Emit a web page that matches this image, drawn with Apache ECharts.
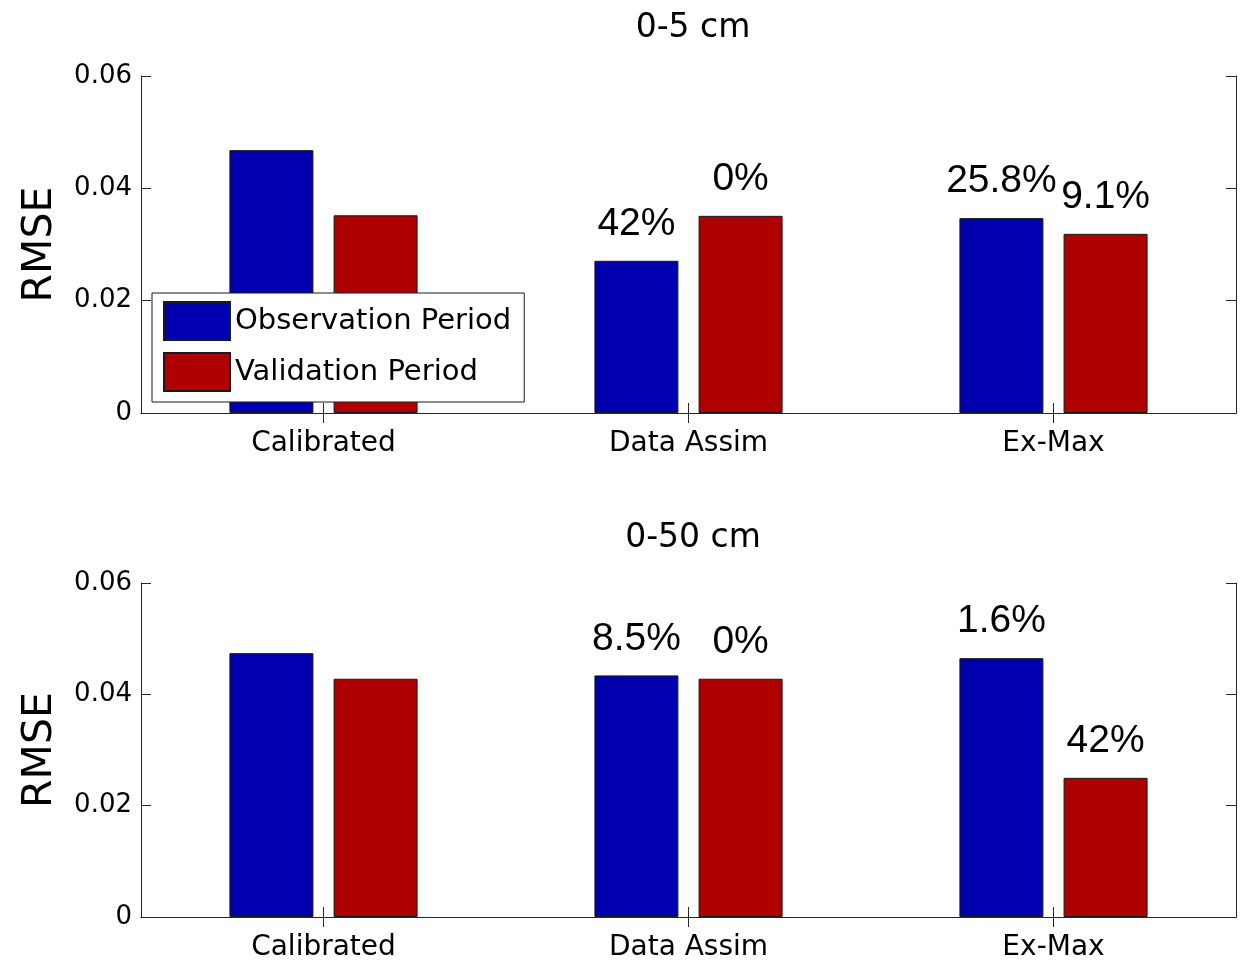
<!DOCTYPE html>
<html>
<head>
<meta charset="utf-8">
<script src="https://cdn.jsdelivr.net/npm/echarts@6/dist/echarts.min.js"></script>
<style>
html,body{margin:0;padding:0;background:#fff;}
#chart{width:1246px;height:962px;}
</style>
</head>
<body>
<div id="chart"></div>
<script>
// ---- data ----
const categories = ['Calibrated', 'Data Assim', 'Ex-Max'];
const seriesNames = ['Observation Period', 'Validation Period'];
const panelTitles = ['0-5 cm', '0-50 cm'];
const yTicks = [0, 0.02, 0.04, 0.06];

const obs5 = [0.0468, 0.0271, 0.0347];
const val5 = [0.0352, 0.0351, 0.0319];
const obs50 = [0.0474, 0.0434, 0.0465];
const val50 = [0.0428, 0.0428, 0.0250];

const obs5Labels = ['', '42%', '25.8%'];
const val5Labels = ['', '0%', '9.1%'];
const obs50Labels = ['', '8.5%', '1.6%'];
const val50Labels = ['', '0%', '42%'];

// ---- styling ----
const BLUE = '#0000ae';
const RED = '#ae0000';
const AX = '#262626';
const FONT = 'DejaVu Sans';

const chart = echarts.init(document.getElementById('chart'), null, {renderer: 'canvas'});

const grids = [
  {left: 141, top: 76, width: 1095, height: 337},
  {left: 141, top: 583, width: 1095, height: 337}
];

function xAxes(gi) {
  return [
    {
      type: 'category', gridIndex: gi, data: categories, position: 'bottom',
      boundaryGap: true,
      axisLine: {show: true, lineStyle: {color: AX, width: 1}},
      axisTick: {show: true, inside: true, alignWithLabel: true, length: 10, lineStyle: {color: AX}},
      axisLabel: {show: true, color: '#000', fontFamily: FONT, fontSize: 28, margin: 17},
      splitLine: {show: false}
    },
    {
      type: 'category', gridIndex: gi, data: categories, position: 'top',
      boundaryGap: true,
      axisLine: {show: true, lineStyle: {color: AX, width: 1}},
      axisTick: {show: true, inside: true, alignWithLabel: true, length: 10, lineStyle: {color: AX}},
      axisLabel: {show: false},
      splitLine: {show: false}
    }
  ];
}

function yAxes(gi) {
  return [
    {
      type: 'value', gridIndex: gi, position: 'left', min: 0, max: 0.06, interval: 0.02,
      name: 'RMSE', nameLocation: 'middle', nameGap: 80, nameRotate: 90,
      nameTextStyle: {color: '#000', fontFamily: FONT, fontSize: 41},
      axisLine: {show: true, lineStyle: {color: AX, width: 1}},
      axisTick: {show: true, inside: true, length: 10, lineStyle: {color: AX}},
      axisLabel: {show: true, color: '#000', fontFamily: FONT, fontSize: 26, margin: 9,
        formatter: v => (v === 0 ? '0' : v.toFixed(2))},
      splitLine: {show: false}
    },
    {
      type: 'value', gridIndex: gi, position: 'right', min: 0, max: 0.06, interval: 0.02,
      axisLine: {show: true, lineStyle: {color: AX, width: 1}},
      axisTick: {show: true, inside: true, length: 10, lineStyle: {color: AX}},
      axisLabel: {show: false},
      splitLine: {show: false}
    }
  ];
}

function barSeries(name, data, labels, color, gi) {
  return {
    type: 'bar', name: name, data: data,
    xAxisIndex: gi * 2, yAxisIndex: gi * 2,
    barWidth: 84, barGap: '24%',
    itemStyle: {color: color, borderColor: '#1a1a1a', borderWidth: 1},
    label: {
      show: true, position: 'top', distance: 17,
      fontFamily: 'Liberation Sans', fontSize: 39, color: '#000',
      formatter: p => labels[p.dataIndex]
    },
    emphasis: {disabled: true},
    animation: false
  };
}

const option = {
  backgroundColor: '#fff',
  animation: false,
  title: panelTitles.map((t, i) => ({
    text: t, left: 688, top: i === 0 ? 7 : 517, textAlign: 'center',
    textStyle: {color: '#000', fontFamily: FONT, fontSize: 33, fontWeight: 'normal'}
  })),
  legend: {
    data: seriesNames,
    orient: 'vertical', left: 152, top: 293,
    padding: [8, 13, 10, 11],
    itemWidth: 66, itemHeight: 38, itemGap: 11,
    icon: 'rect',
    backgroundColor: '#fff', borderColor: '#1a1a1a', borderWidth: 1,
    textStyle: {color: '#000', fontFamily: FONT, fontSize: 29},
    selectedMode: false,
    z: 10
  },
  grid: grids,
  xAxis: [...xAxes(0), ...xAxes(1)],
  yAxis: [...yAxes(0), ...yAxes(1)],
  series: [
    barSeries(seriesNames[0], obs5, obs5Labels, BLUE, 0),
    barSeries(seriesNames[1], val5, val5Labels, RED, 0),
    barSeries(seriesNames[0], obs50, obs50Labels, BLUE, 1),
    barSeries(seriesNames[1], val50, val50Labels, RED, 1)
  ]
};

chart.setOption(option);
</script>
</body>
</html>
